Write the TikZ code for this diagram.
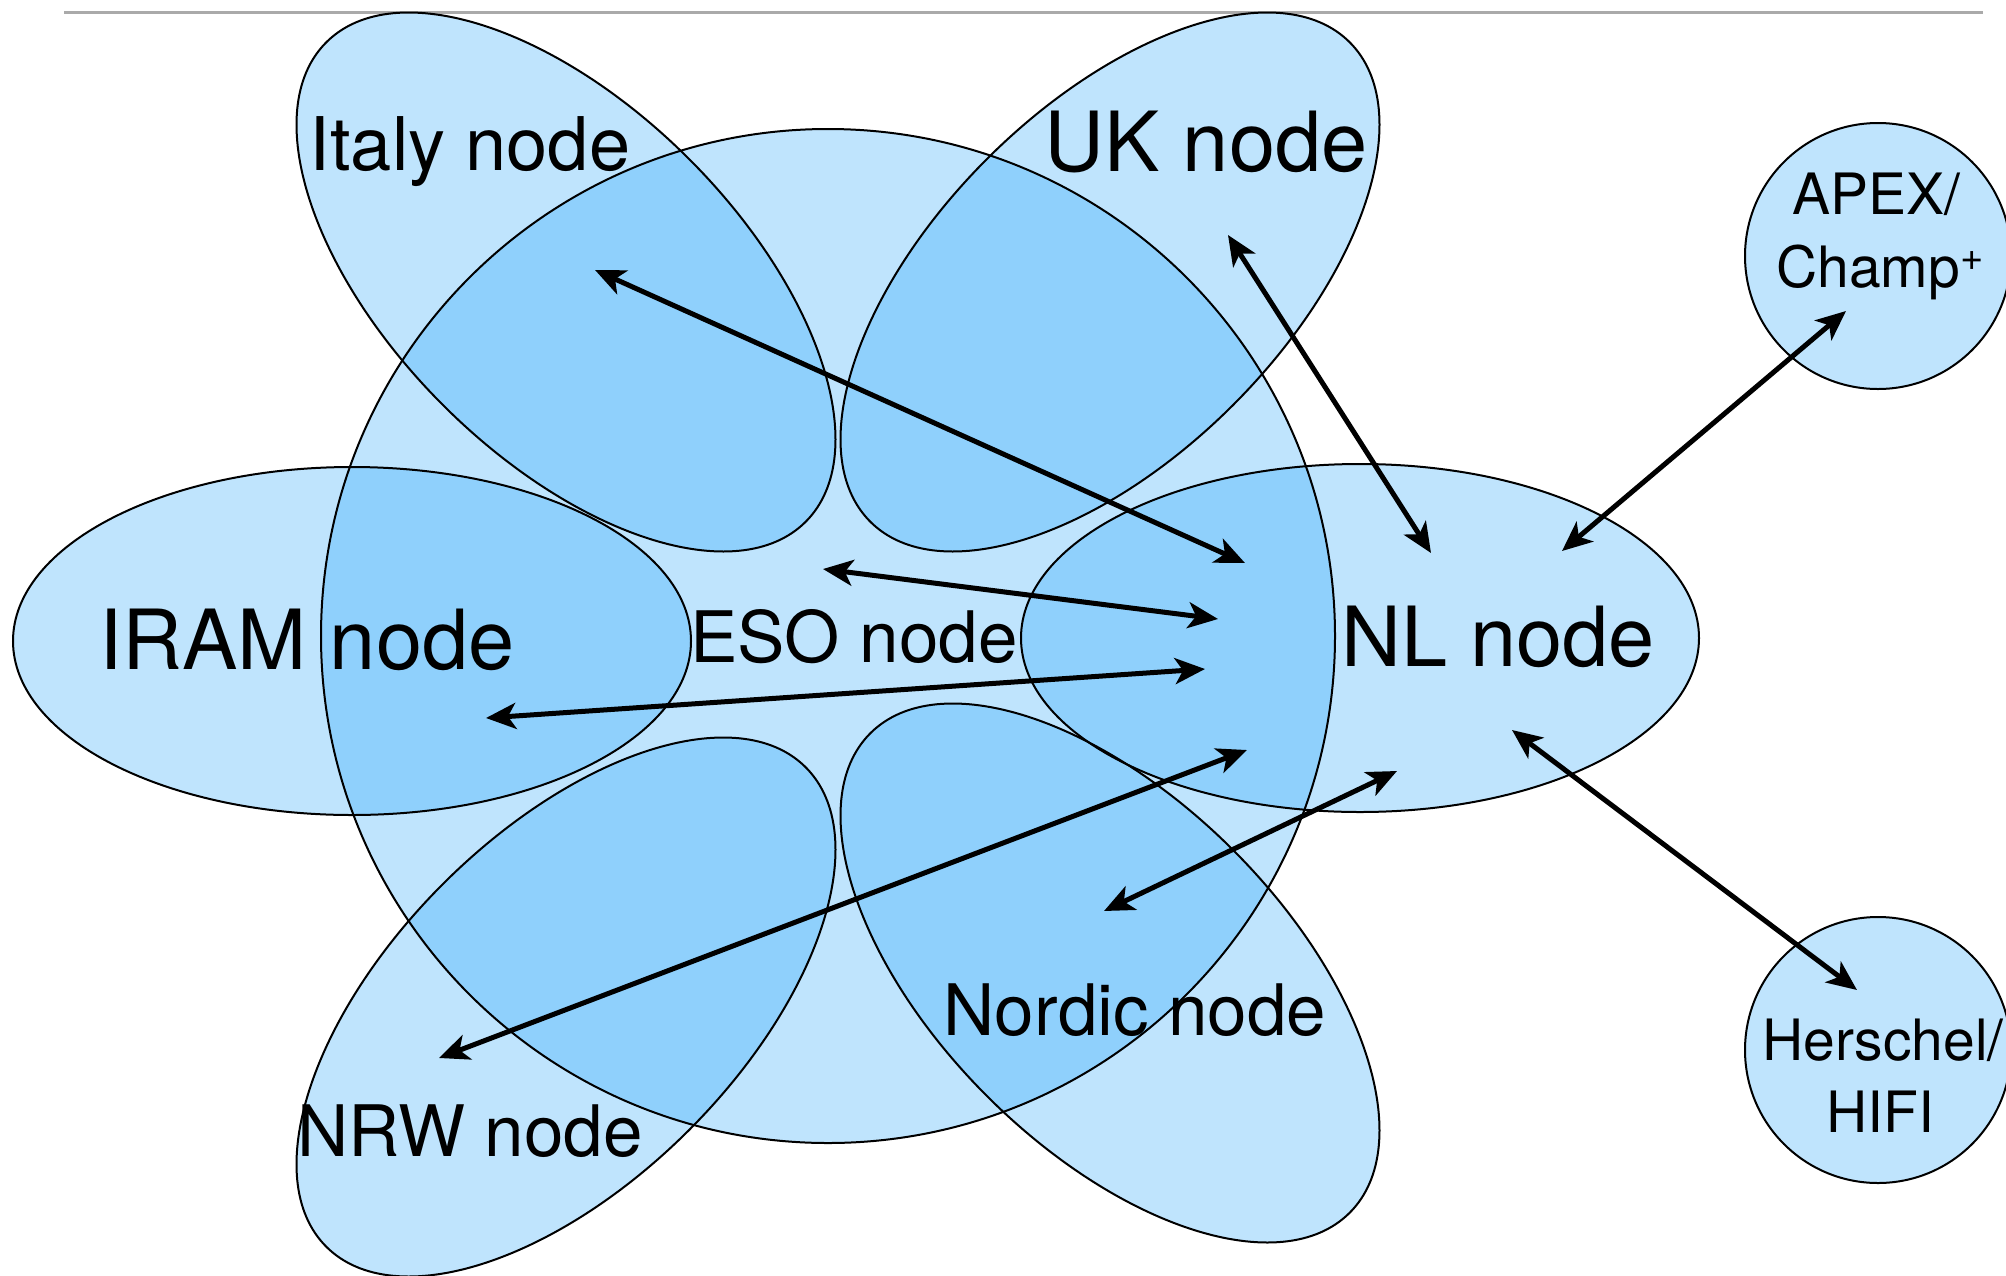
\documentclass[tikz,border=0pt]{standalone}
\usepackage{fontspec}
\setmainfont{TeX Gyre Heros}
\usetikzlibrary{arrows.meta}
\definecolor{fillLight}{RGB}{191,228,253}
\definecolor{fillDark}{RGB}{143,208,252}
\definecolor{ruleGray}{RGB}{170,170,170}
\begin{document}
\begin{tikzpicture}[x=1pt,y=-1pt,
  shapeline/.style={draw=black, line width=2pt},
  lbl/.style={inner sep=0pt, anchor=base, text=black},
  lblBig/.style={font=\fontsize{83}{100}\selectfont},
  lblMid/.style={font=\fontsize{74}{90}\selectfont},
  lblSml/.style={font=\fontsize{71}{85}\selectfont},
  lblTiny/.style={font=\fontsize{57}{68}\selectfont},
  link/.style={line width=5pt, {Stealth[length=30pt,width=26pt,inset=8pt]}-{Stealth[length=30pt,width=26pt,inset=8pt]}}
]
\useasboundingbox (0,0) rectangle (2006,1275);

% rule at top
\coordinate (ruleL) at (64,12);
\coordinate (ruleR) at (1983,12);
\draw[ruleGray, line width=3pt] (ruleL) -- (ruleR);

% shape centres
\coordinate (eso) at (828,636);
\coordinate (iram) at (352,641);
\coordinate (nl) at (1360,638);
\coordinate (italy) at (566,282);
\coordinate (uk) at (1110,282);
\coordinate (nrw) at (566,1007);
\coordinate (nordic) at (1110,973);
\coordinate (apex) at (1878,256);
\coordinate (herschel) at (1878,1050);

\def\pEso{(eso) circle[radius=507]}
\def\pIram{(iram) ellipse[x radius=339, y radius=174]}
\def\pNl{(nl) ellipse[x radius=339, y radius=174]}
\def\pItaly{(italy) ellipse[x radius=339, y radius=174, rotate=-45]}
\def\pUk{(uk) ellipse[x radius=339, y radius=174, rotate=45]}
\def\pNrw{(nrw) ellipse[x radius=339, y radius=174, rotate=45]}
\def\pNordic{(nordic) ellipse[x radius=339, y radius=174, rotate=-45]}
\def\pApex{(apex) circle[radius=133]}
\def\pHer{(herschel) circle[radius=133]}

% light fills
\fill[fillLight] \pEso;
\fill[fillLight] \pIram;
\fill[fillLight] \pNl;
\fill[fillLight] \pItaly;
\fill[fillLight] \pUk;
\fill[fillLight] \pNrw;
\fill[fillLight] \pNordic;
\fill[fillLight] \pApex;
\fill[fillLight] \pHer;

% darker overlaps
\begin{scope}\clip \pEso; \fill[fillDark] \pIram \pNl \pItaly \pUk \pNrw \pNordic; \end{scope}
\begin{scope}\clip \pIram; \fill[fillDark] \pItaly \pNrw; \end{scope}
\begin{scope}\clip \pNl; \fill[fillDark] \pUk \pNordic; \end{scope}
\begin{scope}\clip \pItaly; \fill[fillDark] \pUk; \end{scope}
\begin{scope}\clip \pNrw; \fill[fillDark] \pNordic; \end{scope}

% outlines
\draw[shapeline] \pEso;
\draw[shapeline] \pIram;
\draw[shapeline] \pNl;
\draw[shapeline] \pItaly;
\draw[shapeline] \pUk;
\draw[shapeline] \pNrw;
\draw[shapeline] \pNordic;
\draw[shapeline] \pApex;
\draw[shapeline] \pHer;

% labels
\node[lbl, lblMid] (italyT) at (470,170) {Italy node};
\node[lbl, lblBig] (ukT) at (1206,171) {UK node};
\node[lbl, lblBig] (iramT) at (307,669) {IRAM node};
\node[lbl, lblSml] (esoT) at (854,662) {ESO node};
\node[lbl, lblBig] (nlT) at (1498,666) {NL node};
\node[lbl, lblSml] (nordicT) at (1135,1035) {Nordic node};
\node[lbl, lblSml] (nrwT) at (470,1156) {NRW node};
\node[lbl, lblTiny] (apexT1) at (1876,214) {APEX/};
\node[lbl, lblTiny] (apexT2) at (1880,287) {Champ{\fontsize{40}{40}\selectfont\raisebox{17pt}{+}}};
\node[lbl, lblTiny] (herT1) at (1883,1060) {Herschel/};
\node[lbl, lblTiny] (herT2) at (1880,1132) {HIFI};

% arrow end points
\coordinate (itEnd) at (595,270);   \coordinate (nlIt) at (1245,563);
\coordinate (ukEnd) at (1228,235);  \coordinate (nlUk) at (1431,553);
\coordinate (esoEnd) at (823,569);  \coordinate (nlEso) at (1218,619);
\coordinate (iramEnd) at (486,718); \coordinate (nlIram) at (1205,669);
\coordinate (nrwEnd) at (439,1058); \coordinate (nlNrw) at (1247,750);
\coordinate (nordEnd) at (1104,911); \coordinate (nlNord) at (1397,771);
\coordinate (nlApex) at (1562,551); \coordinate (apexEnd) at (1846,311);
\coordinate (nlHer) at (1512,730);  \coordinate (herEnd) at (1857,990);

\draw[link] (itEnd) -- (nlIt);
\draw[link] (ukEnd) -- (nlUk);
\draw[link] (esoEnd) -- (nlEso);
\draw[link] (iramEnd) -- (nlIram);
\draw[link] (nrwEnd) -- (nlNrw);
\draw[link] (nordEnd) -- (nlNord);
\draw[link] (nlApex) -- (apexEnd);
\draw[link] (nlHer) -- (herEnd);
\end{tikzpicture}
\end{document}
